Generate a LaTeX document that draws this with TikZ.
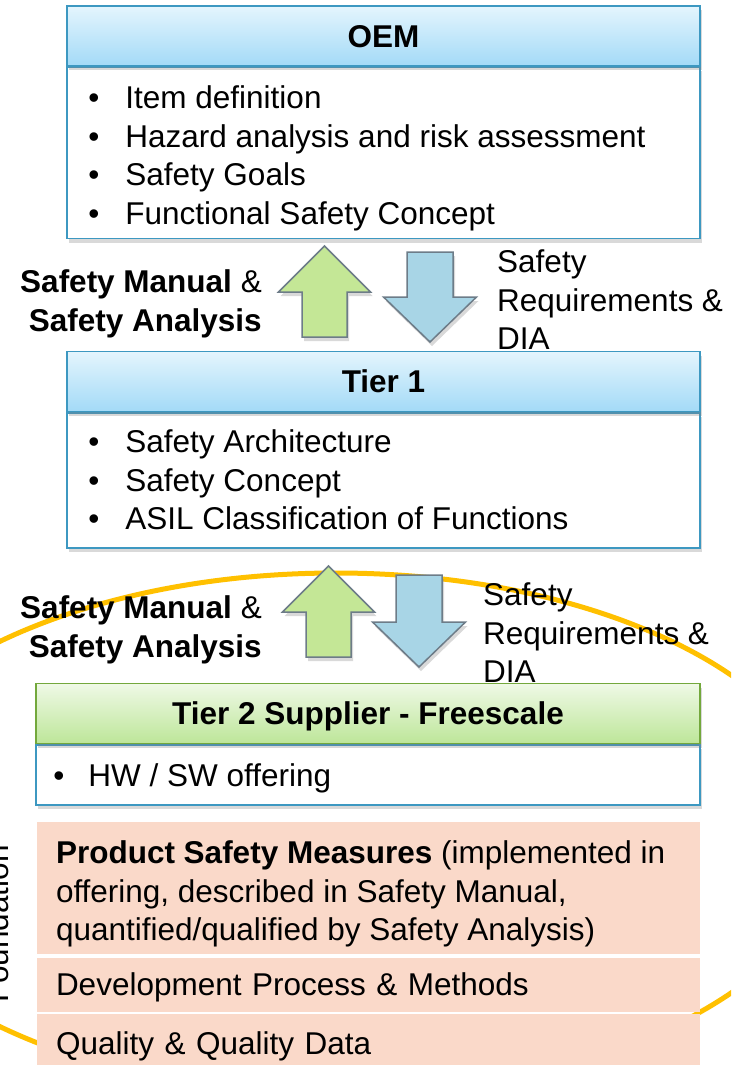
\documentclass[tikz,border=0pt]{standalone}
\usepackage{fontspec}
\setmainfont{Liberation Sans}
\usetikzlibrary{positioning,shadows}

\definecolor{hdrtop}{HTML}{E4F5FD}
\definecolor{hdrbot}{HTML}{A3DAF7}
\definecolor{hdredge}{HTML}{3D98C1}
\definecolor{grntop}{HTML}{EFF9E6}
\definecolor{grnbot}{HTML}{BDE699}
\definecolor{grnedge}{HTML}{73A83C}
\definecolor{upfill}{HTML}{C4E796}
\definecolor{downfill}{HTML}{A8D5E6}
\definecolor{arredge}{HTML}{6D7C88}
\definecolor{peach}{HTML}{FAD9C9}
\definecolor{gold}{HTML}{FFC000}

\newcommand{\bulletline}[2][37pt]{\makebox[#1][l]{\textbullet}#2}

\tikzset{
  every node/.style={font=\fontsize{31.5}{38.5}\selectfont},
  boxshadow/.style={drop shadow={opacity=0.3, shadow xshift=2pt, shadow yshift=-4pt}},
  bluehead/.style={draw=hdredge, line width=1.5pt, top color=hdrtop, bottom color=hdrbot,
    minimum height=60pt, text height=22.5pt, text depth=0pt, boxshadow,
    font=\fontsize{31.5}{38.5}\selectfont\bfseries},
  greenhead/.style={bluehead, draw=grnedge, top color=grntop, bottom color=grnbot},
  listbox/.style={draw=hdredge, line width=1.5pt, fill=white, boxshadow},
  listtext/.style={inner sep=0pt, anchor=north west, align=left},
  peachbox/.style={fill=peach, minimum width=663pt, inner xsep=19pt, anchor=north},
  uparrow/.style={draw=arredge, line width=1.5pt, fill=upfill, line join=miter, boxshadow},
  downarrow/.style={uparrow, fill=downfill},
  foundline/.style={draw=gold, line width=5pt}
}

\begin{document}
\begin{tikzpicture}[x=1pt, y=-1pt]
  \useasboundingbox (0,0) rectangle (731,1065);
  \clip (0,0) rectangle (731,1065);

  % Foundation ring behind everything
  \draw[foundline] (336,834) ellipse [x radius=498, y radius=261];
  \node[rotate=90, anchor=base, inner sep=0pt] (found) at (9,924) {Foundation};

  % OEM
  \node[listbox, minimum width=633pt, minimum height=171pt] (oembody) at (383.5,153) {};
  \node[bluehead, minimum width=633pt, above=0pt of oembody] (oemhead) {OEM};
  \node[listtext, below right=19pt and 22pt of oembody.north west] (oemlist)
    {\bulletline{Item definition}\\
     \bulletline{Hazard analysis and risk assessment}\\
     \bulletline{Safety Goals}\\
     \bulletline{Functional Safety Concept}};

  % Arrows OEM <-> Tier 1
  \draw[uparrow] (324.5,246) -- ++(46,46) -- ++(-23.5,0) -- ++(0,45)
    -- ++(-45,0) -- ++(0,-45) -- ++(-23.5,0) -- cycle;
  \draw[downarrow] (430,342) -- ++(46.5,-45) -- ++(-23.5,0) -- ++(0,-45)
    -- ++(-46,0) -- ++(0,45) -- ++(-23.5,0) -- cycle;
  \node[anchor=east, align=right, inner sep=0pt] (upA) at (262,304)
    {\textbf{Safety Manual} \&\\\textbf{Safety Analysis}};
  \node[anchor=west, align=left, inner sep=0pt] (downA) at (497,300)
    {Safety\\Requirements \&\\DIA};

  % Tier 1
  \node[listbox, minimum width=633pt, minimum height=135pt] (t1body) at (383.5,480.5) {};
  \node[bluehead, minimum width=633pt, above=0pt of t1body] (t1head) {Tier 1};
  \node[listtext, below right=17.5pt and 22pt of t1body.north west] (t1list)
    {\bulletline{Safety Architecture}\\
     \bulletline{Safety Concept}\\
     \bulletline{ASIL Classification of Functions}};

  % Arrows Tier 1 <-> Tier 2
  \draw[uparrow] (328.5,566) -- ++(46,46) -- ++(-23.5,0) -- ++(0,45)
    -- ++(-45,0) -- ++(0,-45) -- ++(-23.5,0) -- cycle;
  \draw[downarrow] (419,667) -- ++(46.5,-45) -- ++(-23.5,0) -- ++(0,-47)
    -- ++(-46,0) -- ++(0,47) -- ++(-23.5,0) -- cycle;
  \node[anchor=east, align=right, inner sep=0pt] (upB) at (262,630)
    {\textbf{Safety Manual} \&\\\textbf{Safety Analysis}};
  \node[anchor=west, align=left, inner sep=0pt] (downB) at (483,633)
    {Safety\\Requirements \&\\DIA};

  % Tier 2
  \node[listbox, minimum width=664pt, minimum height=60pt] (t2body) at (368,775) {};
  \node[greenhead, minimum width=664pt, above=0pt of t2body] (t2head) {Tier 2 Supplier - Freescale};
  \node[inner sep=0pt, text height=22.5pt, text depth=0pt, anchor=west,
    right=18pt of t2body.west] (t2list) {\bulletline[35pt]{HW / SW offering}};

  % Foundation layers
  \node[peachbox, minimum height=132pt] (measures) at (368.5,822) {};
  \node[listtext, below right=18.5pt and 19pt of measures.north west] (measurestext)
    {\textbf{Product Safety Measures} (implemented in\\
     offering, described in Safety Manual,\\
     quantified/qualified by Safety Analysis)};
  \node[peachbox, minimum height=54pt, text height=22.5pt, text depth=0pt,
    text width=625pt, below=3pt of measures] (process)
    {Development Process \& Methods};
  \node[peachbox, minimum height=58pt, text height=22.5pt, text depth=0pt,
    text width=625pt, below=2pt of process] (quality)
    {Quality \& Quality Data};
\end{tikzpicture}
\end{document}
